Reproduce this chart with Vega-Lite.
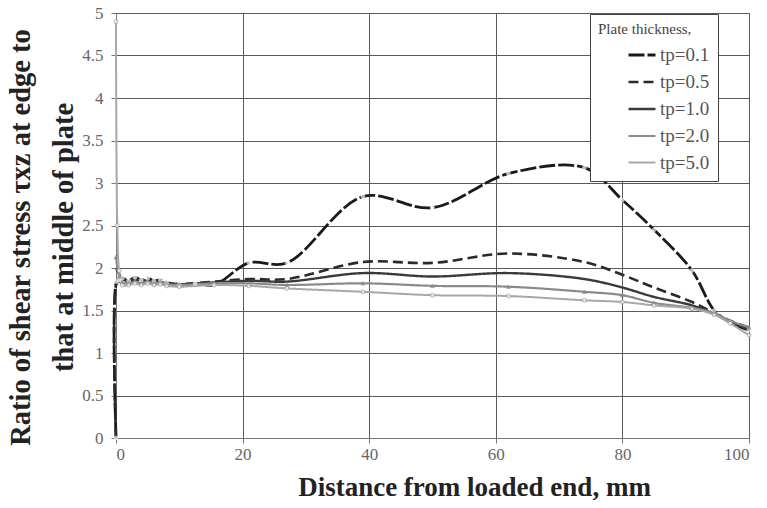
{
  "$schema": "https://vega.github.io/schema/vega-lite/v6.json",
  "width": 633,
  "height": 425,
  "autosize": "none",
  "padding": {"left": 116, "top": 13, "right": 18, "bottom": 70},
  "background": "white",
  "config": {
    "font": "Liberation Serif",
    "view": {"stroke": "#666", "strokeWidth": 1},
    "axis": {
      "grid": true,
      "gridColor": "#5a5a5a",
      "gridOpacity": 1,
      "gridWidth": 1,
      "domainColor": "#777",
      "tickColor": "#777",
      "tickSize": 5,
      "labelFont": "Liberation Serif",
      "labelFontSize": 17,
      "labelColor": "#666",
      "titleFont": "Liberation Serif",
      "titleFontSize": 27,
      "titleFontWeight": "bold",
      "titleColor": "#222"
    },
    "legend": {
      "titleFont": "Liberation Serif",
      "labelFont": "Liberation Serif"
    }
  },
  "data": {
    "values": [
      {"tp": "tp=0.1", "x": 0, "y": 0},
      {"tp": "tp=0.1", "x": 0.1, "y": 1.84},
      {"tp": "tp=0.1", "x": 0.5, "y": 1.86},
      {"tp": "tp=0.1", "x": 1, "y": 1.88},
      {"tp": "tp=0.1", "x": 2, "y": 1.85},
      {"tp": "tp=0.1", "x": 3, "y": 1.89},
      {"tp": "tp=0.1", "x": 4, "y": 1.86},
      {"tp": "tp=0.1", "x": 5, "y": 1.88},
      {"tp": "tp=0.1", "x": 6, "y": 1.85},
      {"tp": "tp=0.1", "x": 7, "y": 1.86},
      {"tp": "tp=0.1", "x": 8, "y": 1.83},
      {"tp": "tp=0.1", "x": 10, "y": 1.8},
      {"tp": "tp=0.1", "x": 12.5, "y": 1.82},
      {"tp": "tp=0.1", "x": 15.5, "y": 1.8},
      {"tp": "tp=0.1", "x": 21, "y": 2.06},
      {"tp": "tp=0.1", "x": 27, "y": 2.06},
      {"tp": "tp=0.1", "x": 39, "y": 2.84},
      {"tp": "tp=0.1", "x": 50, "y": 2.71},
      {"tp": "tp=0.1", "x": 62, "y": 3.11},
      {"tp": "tp=0.1", "x": 74, "y": 3.18},
      {"tp": "tp=0.1", "x": 80, "y": 2.8},
      {"tp": "tp=0.1", "x": 85, "y": 2.45},
      {"tp": "tp=0.1", "x": 91, "y": 1.97},
      {"tp": "tp=0.1", "x": 94.5, "y": 1.5},
      {"tp": "tp=0.1", "x": 97, "y": 1.36},
      {"tp": "tp=0.1", "x": 100, "y": 1.27},

      {"tp": "tp=0.5", "x": 0, "y": 0},
      {"tp": "tp=0.5", "x": 0.1, "y": 1.82},
      {"tp": "tp=0.5", "x": 0.5, "y": 1.84},
      {"tp": "tp=0.5", "x": 1, "y": 1.86},
      {"tp": "tp=0.5", "x": 2, "y": 1.84},
      {"tp": "tp=0.5", "x": 3, "y": 1.86},
      {"tp": "tp=0.5", "x": 5, "y": 1.85},
      {"tp": "tp=0.5", "x": 7, "y": 1.83},
      {"tp": "tp=0.5", "x": 10, "y": 1.81},
      {"tp": "tp=0.5", "x": 15.5, "y": 1.84},
      {"tp": "tp=0.5", "x": 21, "y": 1.87},
      {"tp": "tp=0.5", "x": 27, "y": 1.87},
      {"tp": "tp=0.5", "x": 39, "y": 2.07},
      {"tp": "tp=0.5", "x": 50, "y": 2.06},
      {"tp": "tp=0.5", "x": 62, "y": 2.17},
      {"tp": "tp=0.5", "x": 74, "y": 2.07},
      {"tp": "tp=0.5", "x": 80, "y": 1.92},
      {"tp": "tp=0.5", "x": 85, "y": 1.77},
      {"tp": "tp=0.5", "x": 91, "y": 1.6},
      {"tp": "tp=0.5", "x": 94.5, "y": 1.47},
      {"tp": "tp=0.5", "x": 97, "y": 1.38},
      {"tp": "tp=0.5", "x": 100, "y": 1.3},

      {"tp": "tp=1.0", "x": 0, "y": 2.0},
      {"tp": "tp=1.0", "x": 0.5, "y": 1.93},
      {"tp": "tp=1.0", "x": 1, "y": 1.87},
      {"tp": "tp=1.0", "x": 2, "y": 1.85},
      {"tp": "tp=1.0", "x": 3, "y": 1.86},
      {"tp": "tp=1.0", "x": 5, "y": 1.85},
      {"tp": "tp=1.0", "x": 7, "y": 1.83},
      {"tp": "tp=1.0", "x": 10, "y": 1.81},
      {"tp": "tp=1.0", "x": 15.5, "y": 1.83},
      {"tp": "tp=1.0", "x": 21, "y": 1.85},
      {"tp": "tp=1.0", "x": 27, "y": 1.84},
      {"tp": "tp=1.0", "x": 39, "y": 1.94},
      {"tp": "tp=1.0", "x": 50, "y": 1.9},
      {"tp": "tp=1.0", "x": 62, "y": 1.94},
      {"tp": "tp=1.0", "x": 74, "y": 1.87},
      {"tp": "tp=1.0", "x": 80, "y": 1.77},
      {"tp": "tp=1.0", "x": 85, "y": 1.66},
      {"tp": "tp=1.0", "x": 91, "y": 1.56},
      {"tp": "tp=1.0", "x": 94.5, "y": 1.46},
      {"tp": "tp=1.0", "x": 97, "y": 1.37},
      {"tp": "tp=1.0", "x": 100, "y": 1.28},

      {"tp": "tp=2.0", "x": 0, "y": 2.13},
      {"tp": "tp=2.0", "x": 0.5, "y": 1.9},
      {"tp": "tp=2.0", "x": 1, "y": 1.83},
      {"tp": "tp=2.0", "x": 2, "y": 1.82},
      {"tp": "tp=2.0", "x": 3, "y": 1.84},
      {"tp": "tp=2.0", "x": 4, "y": 1.82},
      {"tp": "tp=2.0", "x": 5, "y": 1.84},
      {"tp": "tp=2.0", "x": 6, "y": 1.82},
      {"tp": "tp=2.0", "x": 7, "y": 1.83},
      {"tp": "tp=2.0", "x": 8, "y": 1.81},
      {"tp": "tp=2.0", "x": 10, "y": 1.8},
      {"tp": "tp=2.0", "x": 15.5, "y": 1.82},
      {"tp": "tp=2.0", "x": 21, "y": 1.82},
      {"tp": "tp=2.0", "x": 27, "y": 1.8},
      {"tp": "tp=2.0", "x": 39, "y": 1.82},
      {"tp": "tp=2.0", "x": 50, "y": 1.79},
      {"tp": "tp=2.0", "x": 62, "y": 1.78},
      {"tp": "tp=2.0", "x": 74, "y": 1.72},
      {"tp": "tp=2.0", "x": 80, "y": 1.68},
      {"tp": "tp=2.0", "x": 85, "y": 1.59},
      {"tp": "tp=2.0", "x": 91, "y": 1.53},
      {"tp": "tp=2.0", "x": 94.5, "y": 1.47},
      {"tp": "tp=2.0", "x": 97, "y": 1.38},
      {"tp": "tp=2.0", "x": 100, "y": 1.3},

      {"tp": "tp=5.0", "x": 0, "y": 4.9},
      {"tp": "tp=5.0", "x": 0.2, "y": 2.5},
      {"tp": "tp=5.0", "x": 0.5, "y": 1.97},
      {"tp": "tp=5.0", "x": 1, "y": 1.8},
      {"tp": "tp=5.0", "x": 2, "y": 1.8},
      {"tp": "tp=5.0", "x": 3, "y": 1.82},
      {"tp": "tp=5.0", "x": 4, "y": 1.8},
      {"tp": "tp=5.0", "x": 5, "y": 1.82},
      {"tp": "tp=5.0", "x": 6, "y": 1.8},
      {"tp": "tp=5.0", "x": 7, "y": 1.81},
      {"tp": "tp=5.0", "x": 8, "y": 1.79},
      {"tp": "tp=5.0", "x": 10, "y": 1.78},
      {"tp": "tp=5.0", "x": 15.5, "y": 1.8},
      {"tp": "tp=5.0", "x": 21, "y": 1.79},
      {"tp": "tp=5.0", "x": 27, "y": 1.76},
      {"tp": "tp=5.0", "x": 39, "y": 1.72},
      {"tp": "tp=5.0", "x": 50, "y": 1.68},
      {"tp": "tp=5.0", "x": 62, "y": 1.67},
      {"tp": "tp=5.0", "x": 74, "y": 1.62},
      {"tp": "tp=5.0", "x": 80, "y": 1.6},
      {"tp": "tp=5.0", "x": 85, "y": 1.56},
      {"tp": "tp=5.0", "x": 91, "y": 1.52},
      {"tp": "tp=5.0", "x": 94.5, "y": 1.45},
      {"tp": "tp=5.0", "x": 97, "y": 1.35},
      {"tp": "tp=5.0", "x": 100, "y": 1.21}
    ]
  },
  "encoding": {
    "x": {
      "field": "x",
      "type": "quantitative",
      "scale": {"domain": [0, 100], "nice": false},
      "axis": {
        "values": [0, 20, 40, 60, 80, 100],
        "title": "Distance from loaded end, mm",
        "titleX": 358,
        "titlePadding": 12,
        "labelPadding": 3
      }
    },
    "y": {
      "field": "y",
      "type": "quantitative",
      "scale": {"domain": [0, 5], "nice": false},
      "axis": {
        "values": [0, 0.5, 1, 1.5, 2, 2.5, 3, 3.5, 4, 4.5, 5],
        "format": "~g",
        "title": ["Ratio of shear stress τxz at edge to", "that at middle of plate"],
        "titleFontSize": 28.5,
        "titleLineHeight": 43,
        "titlePadding": 3,
        "titleY": 224,
        "labelPadding": 8
      }
    }
  },
  "layer": [
    {
      "mark": {"type": "line", "interpolate": "catmull-rom"},
      "encoding": {
        "color": {
          "field": "tp",
          "type": "nominal",
          "scale": {
            "domain": ["tp=0.1", "tp=0.5", "tp=1.0", "tp=2.0", "tp=5.0"],
            "range": ["#1a1a1a", "#2a2a2a", "#3a3a3a", "#8a8a8a", "#a8a8a8"]
          },
          "legend": {
            "title": "Plate thickness,",
            "orient": "none",
            "legendX": 474,
            "legendY": 1,
            "fillColor": "white",
            "strokeColor": "#444",
            "padding": 8,
            "titleFont": "Liberation Serif",
            "titleFontSize": 15,
            "titleFontWeight": "normal",
            "titleColor": "#444",
            "titlePadding": 3,
            "labelFont": "Liberation Serif",
            "labelFontSize": 19,
            "labelColor": "#555",
            "symbolType": "stroke",
            "symbolSize": 729,
            "symbolOffset": 29,
            "rowPadding": 2,
            "labelOffset": 3
          }
        },
        "strokeDash": {
          "field": "tp",
          "type": "nominal",
          "scale": {
            "domain": ["tp=0.1", "tp=0.5", "tp=1.0", "tp=2.0", "tp=5.0"],
            "range": [[16, 3], [10, 5], [1, 0], [1, 0], [1, 0]]
          },
          "legend": {"title": "Plate thickness,"}
        },
        "strokeWidth": {
          "field": "tp",
          "type": "nominal",
          "scale": {
            "domain": ["tp=0.1", "tp=0.5", "tp=1.0", "tp=2.0", "tp=5.0"],
            "range": [2.8, 2.0, 1.6, 1.0, 1.0]
          },
          "legend": {"title": "Plate thickness,"}
        }
      }
    },
    {
      "transform": [{"filter": {"field": "tp", "oneOf": ["tp=0.1", "tp=2.0", "tp=5.0"]}}],
      "mark": {"type": "point", "filled": false, "strokeWidth": 1},
      "encoding": {
        "shape": {
          "field": "tp",
          "type": "nominal",
          "scale": {
            "domain": ["tp=0.1", "tp=2.0", "tp=5.0"],
            "range": ["circle", "triangle-up", "circle"]
          },
          "legend": null
        },
        "fill": {
          "field": "tp",
          "type": "nominal",
          "scale": {
            "domain": ["tp=0.1", "tp=2.0", "tp=5.0"],
            "range": ["white", "#888", "white"]
          },
          "legend": null
        },
        "stroke": {
          "field": "tp",
          "type": "nominal",
          "scale": {
            "domain": ["tp=0.1", "tp=2.0", "tp=5.0"],
            "range": ["white", "#888", "#999"]
          },
          "legend": null
        },
        "size": {
          "field": "tp",
          "type": "nominal",
          "scale": {
            "domain": ["tp=0.1", "tp=2.0", "tp=5.0"],
            "range": [14, 16, 18]
          },
          "legend": null
        }
      }
    }
  ]
}
